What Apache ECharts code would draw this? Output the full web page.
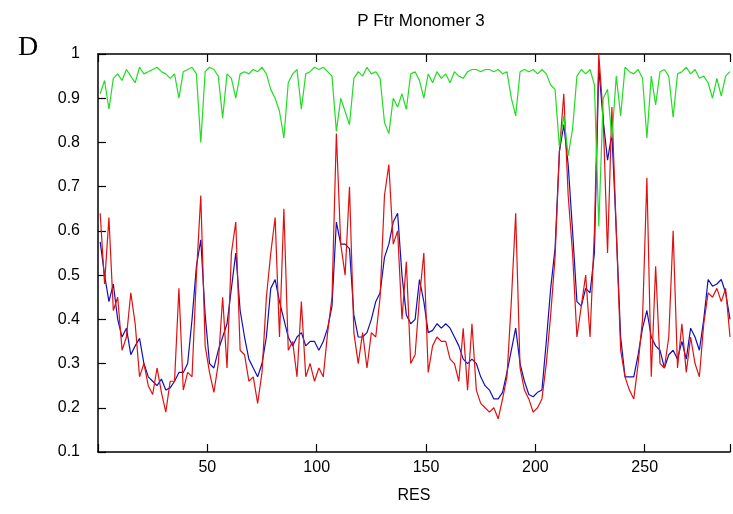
<!DOCTYPE html>
<html>
<head>
<meta charset="utf-8">
<script src="https://cdn.jsdelivr.net/npm/echarts@6/dist/echarts.min.js"></script>
<style>
  html, body { margin: 0; padding: 0; background: #fff; }
  #chart { width: 733px; height: 514px; }
</style>
</head>
<body>
<div id="chart"></div>
<script>
// residue numbers (every second residue)
const res = [
  1, 3, 5, 7, 9, 11, 13, 15, 17, 19,
  21, 23, 25, 27, 29, 31, 33, 35, 37, 39,
  41, 43, 45, 47, 49, 51, 53, 55, 57, 59,
  61, 63, 65, 67, 69, 71, 73, 75, 77, 79,
  81, 83, 85, 87, 89, 91, 93, 95, 97, 99,
  101, 103, 105, 107, 109, 111, 113, 115, 117, 119,
  121, 123, 125, 127, 129, 131, 133, 135, 137, 139,
  141, 143, 145, 147, 149, 151, 153, 155, 157, 159,
  161, 163, 165, 167, 169, 171, 173, 175, 177, 179,
  181, 183, 185, 187, 189, 191, 193, 195, 197, 199,
  201, 203, 205, 207, 209, 211, 213, 215, 217, 219,
  221, 223, 225, 227, 229, 231, 233, 235, 237, 239,
  241, 243, 245, 247, 249, 251, 253, 255, 257, 259,
  261, 263, 265, 267, 269, 271, 273, 275, 277, 279,
  281, 283, 285, 287, 289
]

const greenVals = [
  0.91, 0.94, 0.875, 0.945, 0.955, 0.94, 0.965, 0.95, 0.935, 0.97,
  0.955, 0.96, 0.965, 0.97, 0.96, 0.955, 0.945, 0.955, 0.9, 0.96,
  0.965, 0.97, 0.955, 0.8, 0.96, 0.97, 0.965, 0.95, 0.855, 0.955,
  0.945, 0.9, 0.955, 0.96, 0.955, 0.965, 0.96, 0.97, 0.955, 0.92,
  0.9, 0.87, 0.81, 0.935, 0.955, 0.965, 0.875, 0.955, 0.96, 0.97,
  0.965, 0.97, 0.96, 0.95, 0.825, 0.9, 0.87, 0.84, 0.945, 0.96,
  0.95, 0.97, 0.955, 0.96, 0.945, 0.845, 0.82, 0.9, 0.88, 0.91,
  0.875, 0.955, 0.96, 0.94, 0.9, 0.955, 0.935, 0.96, 0.945, 0.955,
  0.935, 0.96, 0.95, 0.945, 0.96, 0.965, 0.965, 0.96, 0.965, 0.965,
  0.96, 0.965, 0.955, 0.96, 0.9, 0.86, 0.96, 0.965, 0.96, 0.965,
  0.955, 0.965, 0.955, 0.93, 0.92, 0.79, 0.86, 0.77, 0.83, 0.95,
  0.965, 0.955, 0.965, 0.93, 0.61, 0.9, 0.92, 0.81, 0.95, 0.86,
  0.97, 0.96, 0.955, 0.965, 0.945, 0.81, 0.95, 0.885, 0.96, 0.965,
  0.95, 0.857, 0.955, 0.96, 0.97, 0.955, 0.965, 0.945, 0.95, 0.935,
  0.9, 0.945, 0.905, 0.95, 0.96
]

const blueVals = [
  0.575, 0.5, 0.44, 0.48, 0.4, 0.36, 0.38, 0.32, 0.34, 0.357,
  0.3, 0.27, 0.26, 0.25, 0.265, 0.24, 0.245, 0.26, 0.28, 0.28,
  0.3, 0.4, 0.52, 0.58, 0.41, 0.3, 0.29, 0.33, 0.36, 0.39,
  0.47, 0.55, 0.42, 0.36, 0.31, 0.29, 0.27, 0.3, 0.36, 0.47,
  0.49, 0.44, 0.4, 0.36, 0.34, 0.36, 0.37, 0.34, 0.35, 0.35,
  0.33, 0.35, 0.38, 0.43, 0.62, 0.57, 0.57, 0.56, 0.41, 0.36,
  0.36, 0.37, 0.4, 0.44, 0.46, 0.54, 0.57, 0.62, 0.64, 0.5,
  0.41, 0.39, 0.4, 0.49, 0.44, 0.37, 0.375, 0.39, 0.38, 0.39,
  0.38, 0.36, 0.34, 0.31, 0.3, 0.31, 0.3, 0.27, 0.25, 0.24,
  0.22, 0.22, 0.235, 0.28, 0.33, 0.38, 0.3, 0.26, 0.23, 0.225,
  0.235, 0.24, 0.35, 0.47, 0.56, 0.78, 0.84, 0.75, 0.6, 0.44,
  0.43, 0.47, 0.46, 0.55, 0.97, 0.85, 0.76, 0.82, 0.6, 0.36,
  0.27, 0.27, 0.27, 0.32, 0.38, 0.42, 0.36, 0.34, 0.33, 0.29,
  0.32, 0.33, 0.31, 0.35, 0.31, 0.38, 0.36, 0.33, 0.4, 0.49,
  0.475, 0.48, 0.49, 0.46, 0.4
]

const redVals = [
  0.64, 0.48, 0.63, 0.42, 0.45, 0.33, 0.36, 0.46, 0.39, 0.27,
  0.3, 0.25, 0.23, 0.29, 0.235, 0.19, 0.26, 0.26, 0.47, 0.24,
  0.28, 0.27, 0.5, 0.68, 0.34, 0.28, 0.235, 0.3, 0.45, 0.29,
  0.55, 0.62, 0.33, 0.32, 0.26, 0.27, 0.21, 0.28, 0.45, 0.55,
  0.63, 0.36, 0.65, 0.33, 0.35, 0.27, 0.44, 0.27, 0.3, 0.26,
  0.29, 0.27, 0.37, 0.45, 0.82, 0.57, 0.5, 0.7, 0.37, 0.3,
  0.37, 0.29, 0.37, 0.36, 0.45, 0.68, 0.75, 0.57, 0.6, 0.4,
  0.53, 0.3, 0.32, 0.45, 0.55, 0.28, 0.34, 0.36, 0.35, 0.35,
  0.31, 0.3, 0.26, 0.38, 0.24, 0.39, 0.24, 0.21, 0.2, 0.19,
  0.2, 0.175, 0.22, 0.27, 0.44, 0.64, 0.29, 0.24, 0.22, 0.19,
  0.2, 0.22, 0.3, 0.41, 0.54, 0.78, 0.91, 0.68, 0.55, 0.36,
  0.43, 0.5, 0.36, 0.6, 1.0, 0.86, 0.55, 0.88, 0.6, 0.33,
  0.27, 0.24, 0.22, 0.3, 0.4, 0.72, 0.27, 0.52, 0.3, 0.29,
  0.36, 0.6, 0.29, 0.39, 0.28, 0.36, 0.3, 0.27, 0.39, 0.46,
  0.45, 0.47, 0.44, 0.47, 0.36
]

const xTicks = [50, 100, 150, 200, 250]

const pair = vals => res.map((r, i) => [r, vals[i]])

const font = '"Liberation Sans", Arial, sans-serif'
const chart = echarts.init(document.getElementById('chart'))

const lineSeries = (name, vals, color, z) => ({
  name,
  type: 'line',
  data: pair(vals),
  showSymbol: false,
  symbol: 'none',
  z,
  lineStyle: { color, width: 1.2 },
  animation: false
})

const tickStyle = { show: true, inside: true, length: 8, lineStyle: { color: '#000', width: 1.2 } }

chart.setOption({
  backgroundColor: '#fff',
  animation: false,
  title: {
    text: 'P Ftr Monomer 3',
    left: 416,
    textAlign: 'center',
    top: 8,
    textStyle: { fontFamily: font, fontSize: 17, fontWeight: 'normal', color: '#000' }
  },
  graphic: [{
    type: 'text',
    left: 18,
    top: 34,
    style: { text: 'D', font: '28px "Liberation Serif", "Times New Roman", serif', fill: '#000' }
  }],
  grid: { left: 98, right: 0, top: 54, bottom: 62 },
  xAxis: [{
    type: 'value',
    min: 0,
    max: 289,
    interval: 50,
    name: 'RES',
    nameLocation: 'middle',
    nameGap: 36,
    nameTextStyle: { fontFamily: font, fontSize: 16, color: '#000' },
    axisLine: { show: true, lineStyle: { color: '#000', width: 1.5 } },
    axisTick: tickStyle,
    axisLabel: {
      fontFamily: font, fontSize: 16, color: '#000', margin: 8,
      formatter: v => (xTicks.includes(v) ? String(v) : '')
    },
    splitLine: { show: false }
  }, {
    type: 'value',
    position: 'top',
    min: 0,
    max: 289,
    interval: 50,
    axisLine: { show: true, lineStyle: { color: '#000', width: 1.5 } },
    axisTick: tickStyle,
    axisLabel: { show: false },
    splitLine: { show: false }
  }],
  yAxis: {
    type: 'value',
    min: 0.1,
    max: 1,
    interval: 0.1,
    axisLine: { show: true, lineStyle: { color: '#000', width: 1.5 } },
    axisTick: tickStyle,
    axisLabel: {
      fontFamily: font, fontSize: 16, color: '#000', margin: 18,
      formatter: v => String(Math.round(v * 10) / 10)
    },
    splitLine: { show: false }
  },
  series: [
    lineSeries('blue', blueVals, '#1010b8', 2),
    lineSeries('red', redVals, '#e01010', 3),
    lineSeries('green', greenVals, '#22dd22', 4)
  ]
})
</script>
</body>
</html>
